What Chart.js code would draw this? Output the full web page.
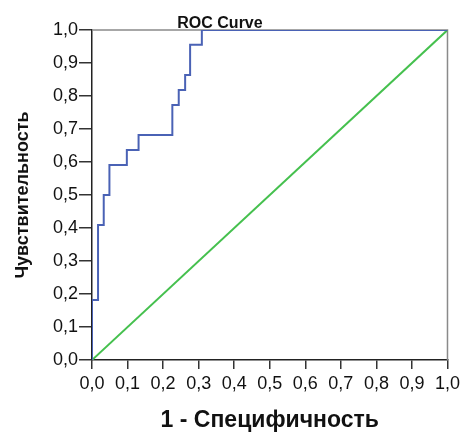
<!DOCTYPE html>
<html>
<head>
<meta charset="utf-8">
<script src="https://cdn.jsdelivr.net/npm/chart.js@4.4.1/dist/chart.umd.min.js"></script>
<style>
  html, body { margin: 0; padding: 0; background: #fff; }
  #wrap { width: 464px; height: 434px; }
</style>
</head>
<body>
<div id="wrap"><canvas id="roc"></canvas></div>
<script>
// ROC-точки (1 - специфичность, чувствительность)
const fpr = [0, 0, 0.017, 0.033, 0.049, 0.098, 0.131, 0.226, 0.244, 0.262, 0.276, 0.309, 1];
const tpr = [0, 0.182, 0.409, 0.5, 0.591, 0.636, 0.682, 0.773, 0.818, 0.864, 0.955, 1, 1];
// диагональ (случайный классификатор)
const refX = [0, 1];
const refY = [0, 1];
const tickLabels = ['0,0', '0,1', '0,2', '0,3', '0,4', '0,5', '0,6', '0,7', '0,8', '0,9', '1,0'];

const fontName = '"Liberation Sans", Arial, sans-serif';

// рамка вокруг области графика и заголовок
const frame = {
  id: 'frame',
  beforeDatasetsDraw(chart) {
    const a = chart.chartArea;
    const ctx = chart.ctx;
    ctx.save();
    ctx.strokeStyle = '#8a8a8a';
    ctx.lineWidth = 1.5;
    ctx.beginPath();
    ctx.moveTo(a.left, a.top);
    ctx.lineTo(a.right, a.top);
    ctx.lineTo(a.right, a.bottom);
    ctx.stroke();
    ctx.restore();
  },
  afterDatasetsDraw(chart) {
    const ctx = chart.ctx;
    const x = chart.scales.x.getPixelForValue(0.36);
    ctx.save();
    ctx.font = 'bold 16px ' + fontName;
    ctx.fillStyle = '#111';
    ctx.textAlign = 'center';
    ctx.textBaseline = 'alphabetic';
    ctx.fillText('ROC Curve', x, chart.chartArea.top - 2);
    ctx.restore();
  }
};

new Chart(document.getElementById('roc'), {
  type: 'scatter',
  data: {
    datasets: [
      {
        label: 'ROC',
        data: fpr.map((v, i) => ({ x: v, y: tpr[i] })),
        showLine: true,
        stepped: 'before',
        borderColor: '#4a62b5',
        borderWidth: 2,
        pointRadius: 0,
        fill: false
      },
      {
        label: 'Reference',
        data: refX.map((v, i) => ({ x: v, y: refY[i] })),
        showLine: true,
        borderColor: '#45c04e',
        borderWidth: 2,
        pointRadius: 0,
        fill: false
      }
    ]
  },
  options: {
    responsive: true,
    maintainAspectRatio: false,
    animation: false,
    layout: { padding: { top: 30, right: 13, left: 0, bottom: 0 } },
    plugins: {
      legend: { display: false },
      tooltip: { enabled: false }
    },
    scales: {
      x: {
        type: 'linear',
        min: 0,
        max: 1,
        afterFit(s) { s.height = 74; },
        ticks: {
          stepSize: 0.1,
          padding: 4,
          color: '#111',
          font: { family: fontName, size: 18 },
          maxRotation: 0,
          callback: (v, i) => tickLabels[i]
        },
        grid: { drawOnChartArea: false, tickLength: 9, color: '#333', lineWidth: 1.5 },
        border: { color: '#222', width: 1.5 },
        title: {
          display: true,
          text: '1 - Специфичность',
          color: '#111',
          font: { family: fontName, size: 23, weight: 'bold' },
          padding: { bottom: 0, top: 0 }
        }
      },
      y: {
        type: 'linear',
        min: 0,
        max: 1,
        afterFit(s) { s.width = 92; },
        ticks: {
          stepSize: 0.1,
          padding: 1,
          color: '#111',
          font: { family: fontName, size: 18 },
          callback: (v, i) => tickLabels[i]
        },
        grid: { drawOnChartArea: false, tickLength: 13, color: '#333', lineWidth: 1.5 },
        border: { color: '#222', width: 1.5 },
        title: {
          display: true,
          text: 'Чувствительность',
          color: '#111',
          font: { family: fontName, size: 18, weight: 'bold' },
          padding: { top: 12, bottom: 0 }
        }
      }
    }
  },
  plugins: [frame]
});
</script>
</body>
</html>
